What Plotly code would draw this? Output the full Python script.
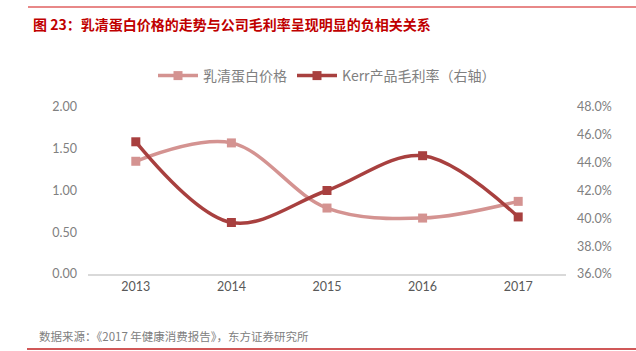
import plotly.graph_objects as go

years = ["2013", "2014", "2015", "2016", "2017"]
whey_price = [1.35, 1.57, 0.79, 0.67, 0.87]
kerr_margin = [45.5, 39.7, 42.0, 44.5, 40.1]
left_ticks = [0, 0.5, 1.0, 1.5, 2.0]
right_ticks = [36, 38, 40, 42, 44, 46, 48]

PINK = "#D49391"
DARK = "#A8403F"
GRAY = "#808080"

W, H = 636, 351
L, R, T, B = 88, 70, 107, 77
pw = W - L - R
ph = H - T - B

def px(x):
    return (x - L) / pw

def py(y):
    return (H - B - y) / ph

fig = go.Figure()
fig.add_trace(go.Scatter(
    x=years, y=whey_price, name="乳清蛋白价格", mode="lines+markers",
    line=dict(color=PINK, width=3.5, shape="spline", smoothing=1.0),
    marker=dict(symbol="square", size=9, color=PINK),
))
fig.add_trace(go.Scatter(
    x=years, y=kerr_margin, name="Kerr产品毛利率（右轴）", mode="lines+markers",
    yaxis="y2",
    line=dict(color=DARK, width=3.5, shape="spline", smoothing=1.0),
    marker=dict(symbol="square", size=9, color=DARK),
))

font_family = "Noto Sans CJK SC, Noto Sans, sans-serif"
num_font = "Lato, Noto Sans CJK SC, sans-serif"

fig.update_layout(
    width=W, height=H,
    margin=dict(l=L, r=R, t=T, b=B, pad=0),
    paper_bgcolor="white", plot_bgcolor="white",
    font=dict(family=font_family, color=GRAY, size=12),
    showlegend=True,
    legend=dict(orientation="h", x=0.5, xanchor="center", y=py(76), yanchor="middle",
                font=dict(size=14, color=GRAY), itemwidth=40, traceorder="normal",
                bgcolor="rgba(0,0,0,0)"),
    xaxis=dict(type="category", showgrid=False, zeroline=False, showline=True,
               linecolor="#D9D9D9", linewidth=1.5, ticks="",
               tickfont=dict(size=12.5, color="#595959", family=num_font),
               range=[-0.5, 4.5]),
    yaxis=dict(range=[0, 2.0], tickvals=left_ticks, tickformat=".2f", showgrid=False,
               zeroline=False, showline=False, ticks="", ticklabelstandoff=10,
               tickfont=dict(size=12.5, color=GRAY, family=num_font)),
    yaxis2=dict(range=[36, 48], tickvals=right_ticks,
                ticktext=[f"{v:.1f}%" for v in right_ticks],
                overlaying="y", side="right", showgrid=False, zeroline=False,
                showline=False, ticks="", ticklabelstandoff=10,
                tickfont=dict(size=12.5, color=GRAY, family=num_font)),
)

fig.add_shape(type="line", xref="paper", yref="paper",
              x0=px(28), x1=px(636), y0=py(7), y1=py(7),
              line=dict(color="#E06060", width=1.5))
fig.add_shape(type="line", xref="paper", yref="paper",
              x0=px(27), x1=px(636), y0=py(349), y1=py(349),
              line=dict(color="#C02020", width=1.5))

fig.add_annotation(xref="paper", yref="paper", x=px(31), y=py(24),
                   xanchor="left", yanchor="middle", showarrow=False,
                   text="<b>图 23：乳清蛋白价格的走势与公司毛利率呈现明显的负相关关系</b>",
                   font=dict(size=14, color="#C00000", family=font_family))
fig.add_annotation(xref="paper", yref="paper", x=px(37), y=py(336),
                   xanchor="left", yanchor="middle", showarrow=False,
                   text="数据来源：《2017 年健康消费报告》，东方证券研究所",
                   font=dict(size=11.5, color=GRAY, family=font_family))

fig.write_html("out.html")
